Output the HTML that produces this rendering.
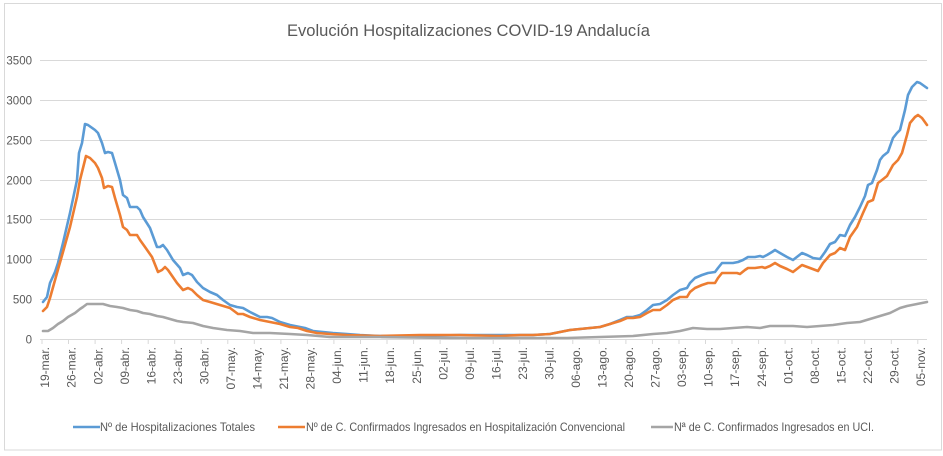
<!DOCTYPE html>
<html><head><meta charset="utf-8"><style>
html,body{margin:0;padding:0;background:#fff;}
svg{display:block;}
text{font-family:"Liberation Sans",sans-serif;fill:#595959;}
</style></head><body>
<svg width="943" height="456" viewBox="0 0 943 456" xmlns="http://www.w3.org/2000/svg">
<rect x="0" y="0" width="943" height="456" fill="#fff"/>
<rect x="4.5" y="3.5" width="937" height="446.5" fill="none" stroke="#d9d9d9" stroke-width="1"/>
<text x="287" y="36" font-size="17" textLength="363" lengthAdjust="spacingAndGlyphs">Evolución Hospitalizaciones COVID-19 Andalucía</text>
<g stroke="#d9d9d9" stroke-width="1">
<line x1="40" y1="60.5" x2="927" y2="60.5"/>
<line x1="40" y1="100.5" x2="927" y2="100.5"/>
<line x1="40" y1="140.5" x2="927" y2="140.5"/>
<line x1="40" y1="180.5" x2="927" y2="180.5"/>
<line x1="40" y1="219.5" x2="927" y2="219.5"/>
<line x1="40" y1="259.5" x2="927" y2="259.5"/>
<line x1="40" y1="299.5" x2="927" y2="299.5"/>
<line x1="40" y1="339.5" x2="927" y2="339.5"/>
</g>
<g font-size="11.5" text-anchor="end">
<text x="32" y="64.5">3500</text>
<text x="32" y="104.5">3000</text>
<text x="32" y="144.5">2500</text>
<text x="32" y="184.5">2000</text>
<text x="32" y="223.5">1500</text>
<text x="32" y="263.5">1000</text>
<text x="32" y="303.5">500</text>
<text x="32" y="343.5">0</text>
</g>
<g stroke="#d9d9d9" stroke-width="1" id="ticks"></g>
<g font-size="12" text-anchor="end" id="xlabels"></g>
<polyline fill="none" stroke="#5B9BD5" stroke-width="2.6" stroke-linejoin="round" stroke-linecap="round" points="43,302 47,297 50,283 55,272 58,263 63,243 70,213 77,180 79,153 82,143 85,124 88,125 95,130 98,133 102,143 105,153 108,152 112,153 115,163 120,180 123,195 127,198 130,207 137,207 140,210 143,217 150,228 157,247 160,247 163,245 167,250 173,260 180,268 183,275 188,273 192,275 197,282 203,288 210,292 217,295 223,300 230,305 237,307 243,308 250,312 260,317 267,317 272,318 280,322 290,325 300,327 305,328 313,331 323,332 333,333 347,334 360,335 380,336 420,336 460,335 500,335 520,335 533,335 550,334 560,332 570,330 580,329 590,328 600,327 610,324 620,320 627,317 633,317 640,315 647,310 653,305 660,304 667,300 673,295 680,290 687,288 690,283 695,278 702,275 708,273 715,272 718,268 722,263 727,263 733,263 738,262 743,260 748,257 755,257 760,256 763,257 767,255 772,252 775,250 780,253 787,257 793,260 802,253 807,255 813,258 820,259 825,252 830,244 835,242 840,235 845,236 850,225 855,217 860,207 865,196 868,185 872,183 877,170 880,160 883,156 888,152 893,138 897,133 900,130 905,110 908,95 912,87 917,82 920,83 927,88"/>
<polyline fill="none" stroke="#ED7D31" stroke-width="2.6" stroke-linejoin="round" stroke-linecap="round" points="43,311 47,307 50,298 57,273 63,252 70,227 77,197 80,180 83,168 86,156 90,158 95,163 98,168 102,178 104,188 108,186 112,187 115,198 120,215 123,227 127,230 130,235 137,235 140,240 145,247 152,257 158,272 162,270 165,267 168,270 177,283 183,290 188,288 192,290 197,295 203,300 210,302 220,305 230,308 238,314 243,314 250,317 260,320 270,322 280,324 290,327 298,328 307,331 317,333 330,334 347,335 380,336 420,335 460,335 500,336 520,335 533,335 550,334 560,332 570,330 580,329 590,328 600,327 610,324 620,321 627,318 633,318 640,317 647,313 653,310 660,310 667,305 673,300 680,297 687,297 690,292 695,288 702,285 708,283 715,283 718,278 722,273 728,273 737,273 740,274 745,270 748,268 755,268 762,267 765,268 770,266 775,263 780,266 787,269 793,272 802,265 810,268 818,271 823,263 830,255 835,253 840,248 845,250 850,237 857,227 863,213 868,202 873,200 878,183 882,180 887,176 893,165 898,160 902,153 907,135 910,123 915,117 918,115 922,118 927,125"/>
<polyline fill="none" stroke="#A5A5A5" stroke-width="2.6" stroke-linejoin="round" stroke-linecap="round" points="43,331 48,331 53,328 58,324 63,321 68,317 75,313 80,309 83,307 87,304 92,304 103,304 110,306 117,307 123,308 130,310 137,311 143,313 150,314 157,316 163,317 170,319 177,321 183,322 193,323 203,326 213,328 227,330 240,331 253,333 270,333 290,334 307,335 330,337 380,337 450,338 500,338 567,338 600,337 633,336 653,334 667,333 680,331 693,328 707,329 720,329 733,328 747,327 760,328 770,326 780,326 793,326 807,327 820,326 833,325 847,323 860,322 870,319 880,316 890,313 900,308 907,306 917,304 927,302"/>
<g stroke-width="2.6">
<line x1="73" y1="427" x2="100" y2="427" stroke="#5B9BD5"/>
<line x1="278" y1="427" x2="305" y2="427" stroke="#ED7D31"/>
<line x1="651" y1="427" x2="673" y2="427" stroke="#A5A5A5"/>
</g>
<g font-size="12">
<text x="100" y="431" textLength="155" lengthAdjust="spacingAndGlyphs">Nº de Hospitalizaciones Totales</text>
<text x="306" y="431" textLength="319" lengthAdjust="spacingAndGlyphs">Nº de C. Confirmados Ingresados en Hospitalización Convencional</text>
<text x="674" y="431" textLength="200" lengthAdjust="spacingAndGlyphs">Nª de C. Confirmados Ingresados en UCI.</text>
</g>
</svg>
<script>
(function(){
var labels=["19-mar.","26-mar.","02-abr.","09-abr.","16-abr.","23-abr.","30-abr.","07-may.","14-may.","21-may.","28-may.","04-jun.","11-jun.","18-jun.","25-jun.","02-jul.","09-jul.","16-jul.","23-jul.","30-jul.","06-ago.","13-ago.","20-ago.","27-ago.","03-sep.","10-sep.","17-sep.","24-sep.","01-oct.","08-oct.","15-oct.","22-oct.","29-oct.","05-nov."];
var ns="http://www.w3.org/2000/svg";
var tg=document.getElementById("ticks"),lg=document.getElementById("xlabels");
for(var k=0;k<labels.length;k++){
var x=42+26.54*k;
var l=document.createElementNS(ns,"line");
l.setAttribute("x1",x.toFixed(1));l.setAttribute("x2",x.toFixed(1));
l.setAttribute("y1","339");l.setAttribute("y2","344");
tg.appendChild(l);
var t=document.createElementNS(ns,"text");
var cx=x+3;
t.setAttribute("transform","translate("+cx.toFixed(1)+",347) rotate(-90)");
t.setAttribute("dy","0.35em");
t.textContent=labels[k];
lg.appendChild(t);
}
})();
</script>
</body></html>
